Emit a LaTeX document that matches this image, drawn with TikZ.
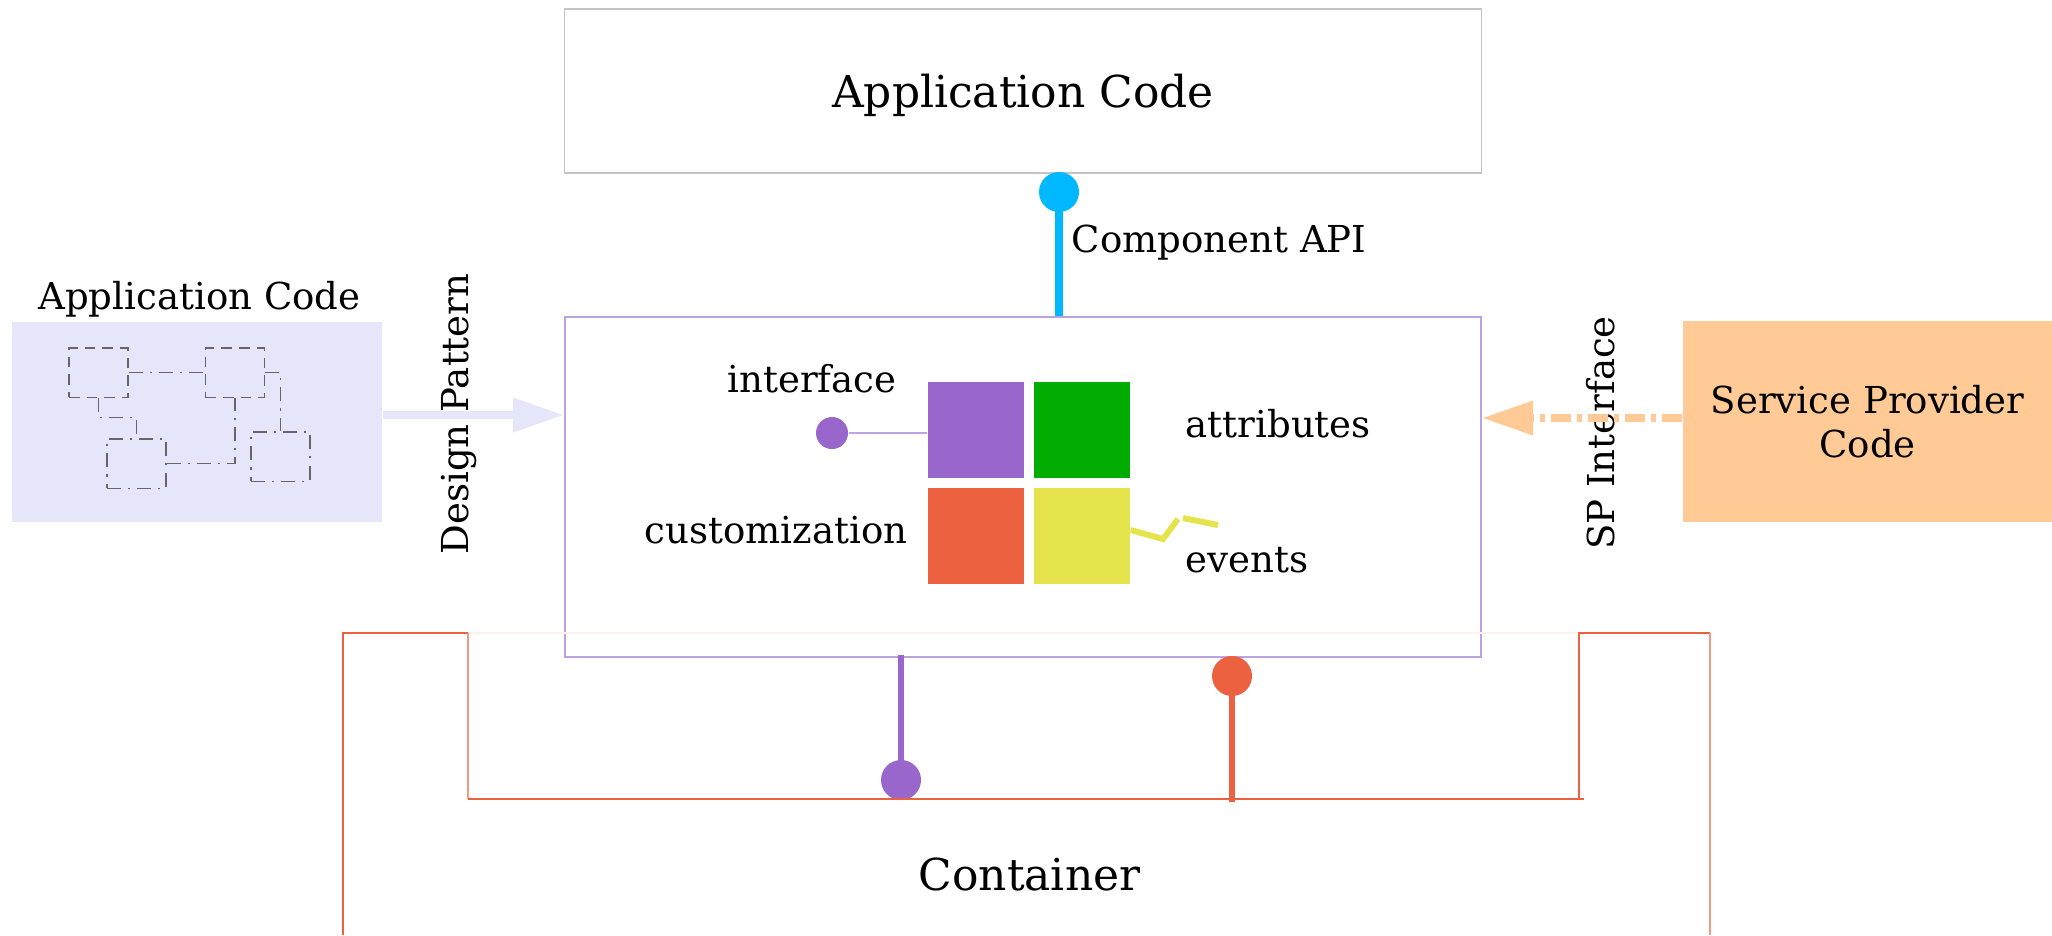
\documentclass[tikz,border=0pt]{standalone}
\usepackage{fontspec}
\setmainfont{DejaVu Serif}
\usetikzlibrary{arrows.meta}
\definecolor{lavanda}{HTML}{E6E6FA}
\definecolor{pessego}{HTML}{FFCA96}
\definecolor{apiazul}{HTML}{00B8FF}
\definecolor{roxo}{HTML}{9966CC}
\definecolor{roxoclaro}{HTML}{BCA2E3}
\definecolor{verde}{HTML}{00AD00}
\definecolor{laranja}{HTML}{EC613F}
\definecolor{amarelo}{HTML}{E6E44C}
\definecolor{cinza}{HTML}{C4C4C4}

\begin{document}
\begin{tikzpicture}[x=0.01cm, y=-0.01cm,
  txt/.style={anchor=base, inner sep=0pt, font=\fontsize{10.55}{12.5}\selectfont},
  bigtxt/.style={anchor=base, inner sep=0pt, font=\fontsize{12.5}{15}\selectfont},
  sq/.style={minimum size=0.96cm, inner sep=0pt},
  pin/.style={circle, inner sep=0pt, minimum size=0.4cm},
  unit/.style={draw=gray!80!black, line width=0.3pt, minimum width=0.59cm, minimum height=0.49cm, inner sep=0pt},
  wire/.style={gray!80!black, line width=0.3pt, dash pattern=on 4pt off 2pt on 0.6pt off 2pt},
  fatarrow/.style={line width=0.077cm, -{Triangle[length=0.51cm, width=0.33cm]}}]
\useasboundingbox (0,0) rectangle (2052,935);

% caixas principais
\node [draw=cinza, line width=0.4pt, minimum width=9.16cm, minimum height=1.64cm](apptop) at (1023,91){};
\node [draw=roxoclaro, line width=0.5pt, minimum width=9.16cm, minimum height=3.40cm](comp) at (1023,487){};
\node [fill=lavanda, minimum width=3.70cm, minimum height=2.00cm](appleft) at (197,422){};
\node [fill=pessego, minimum width=3.69cm, minimum height=2.01cm, align=center, font=\fontsize{10.55}{12.5}\selectfont](sp) at (1867.5,421.5){Service Provider\\Code};

% textos
\node [bigtxt](txtapptop) at (1023,107){Application Code};
\node [txt](txtappleft) at (199.5,309){Application Code};
\node [txt, anchor=base west](txtapi) at (1071,252){Component API};
\node [txt, anchor=base east](txtinterface) at (897,392){interface};
\node [txt, anchor=base east](txtcustom) at (908,543){customization};
\node [txt, anchor=base west](txtattr) at (1185,437){attributes};
\node [txt, anchor=base west](txtevents) at (1185,572){events};
\node [txt, rotate=90](txtdesign) at (468,414){Design Pattern};
\node [txt, rotate=90](txtsp) at (1614,433){SP Interface};
\node [bigtxt](txtcontainer) at (1029.5,890){Container};

% quadrados do componente
\node [sq, fill=roxo](sqroxo) at (976,430){};
\node [sq, fill=verde](sqverde) at (1082,430){};
\node [sq, fill=laranja](sqlaranja) at (976,536){};
\node [sq, fill=amarelo](sqamarelo) at (1082,536){};

% pinos
\node [pin, fill=apiazul](pinapi) at (1059,192){};
\draw [apiazul, line width=0.077cm](pinapi.center) -- (pinapi.center |- comp.north);
\node [pin, fill=roxo, minimum size=0.32cm](pininterface) at (832,433){};
\draw [roxoclaro, line width=0.6pt](pininterface) -- (pininterface -| sqroxo.west);
\coordinate (pinlaranjabase) at (1232,802);
\node [pin, fill=roxo](pinroxo) at (901,780){};
\draw [roxo, line width=0.06cm]([yshift=0.03cm]pinroxo |- comp.south) -- (pinroxo.center);
\node [pin, fill=laranja](pinlaranja) at (1232,676){};
\draw [laranja, line width=0.06cm](pinlaranja.center) -- (pinlaranjabase);

% eventos
\draw [amarelo, line width=0.06cm]([yshift=0.06cm]sqamarelo.east) -- (1163,539) -- (1178,519);
\draw [amarelo, line width=0.06cm](1183,518) -- (1218,525);

% setas
\draw [lavanda, fatarrow]([yshift=0.07cm]appleft.east) -- ([yshift=0.07cm]appleft.east -| comp.west);
\draw [pessego, fatarrow, dash pattern=on 0.2cm off 0.06cm on 0.05cm off 0.06cm]([yshift=0.035cm]sp.west) -- ([yshift=0.035cm]sp.west -| comp.east);

% mini diagrama dentro da caixa da esquerda
\node [unit, densely dashed](ua) at (98.5,372.5){};
\node [unit, densely dashed](ub) at (235,372.5){};
\node [unit, dash pattern=on 4pt off 2pt on 0.6pt off 2pt](uc) at (136.5,463.5){};
\node [unit, dash pattern=on 4pt off 2pt on 0.6pt off 2pt](ud) at (280.5,456.5){};
\draw [wire](ua.east) -- (ub.west);
\draw [wire](ua.south) -- ++(0,20) -| (uc.north);
\draw [wire](uc.east) -| (ub.south);
\draw [wire](ub.east) -| (ud.north);

% container
\draw [laranja!8, line width=0.5pt](468,633) -- (1579,633);
\draw [laranja, line width=0.45pt](343,935) -- (343,633) -- (468,633);
\draw [laranja!65, line width=0.6pt](468,633) -- (468,799);
\draw [laranja, line width=0.45pt](468,799) -- (1584,799);
\draw [laranja, line width=0.45pt](1579,799) -- (1579,633) -- (1710,633);
\draw [laranja!65, line width=0.6pt](1710,633) -- (1710,935);

\end{tikzpicture}
\end{document}
